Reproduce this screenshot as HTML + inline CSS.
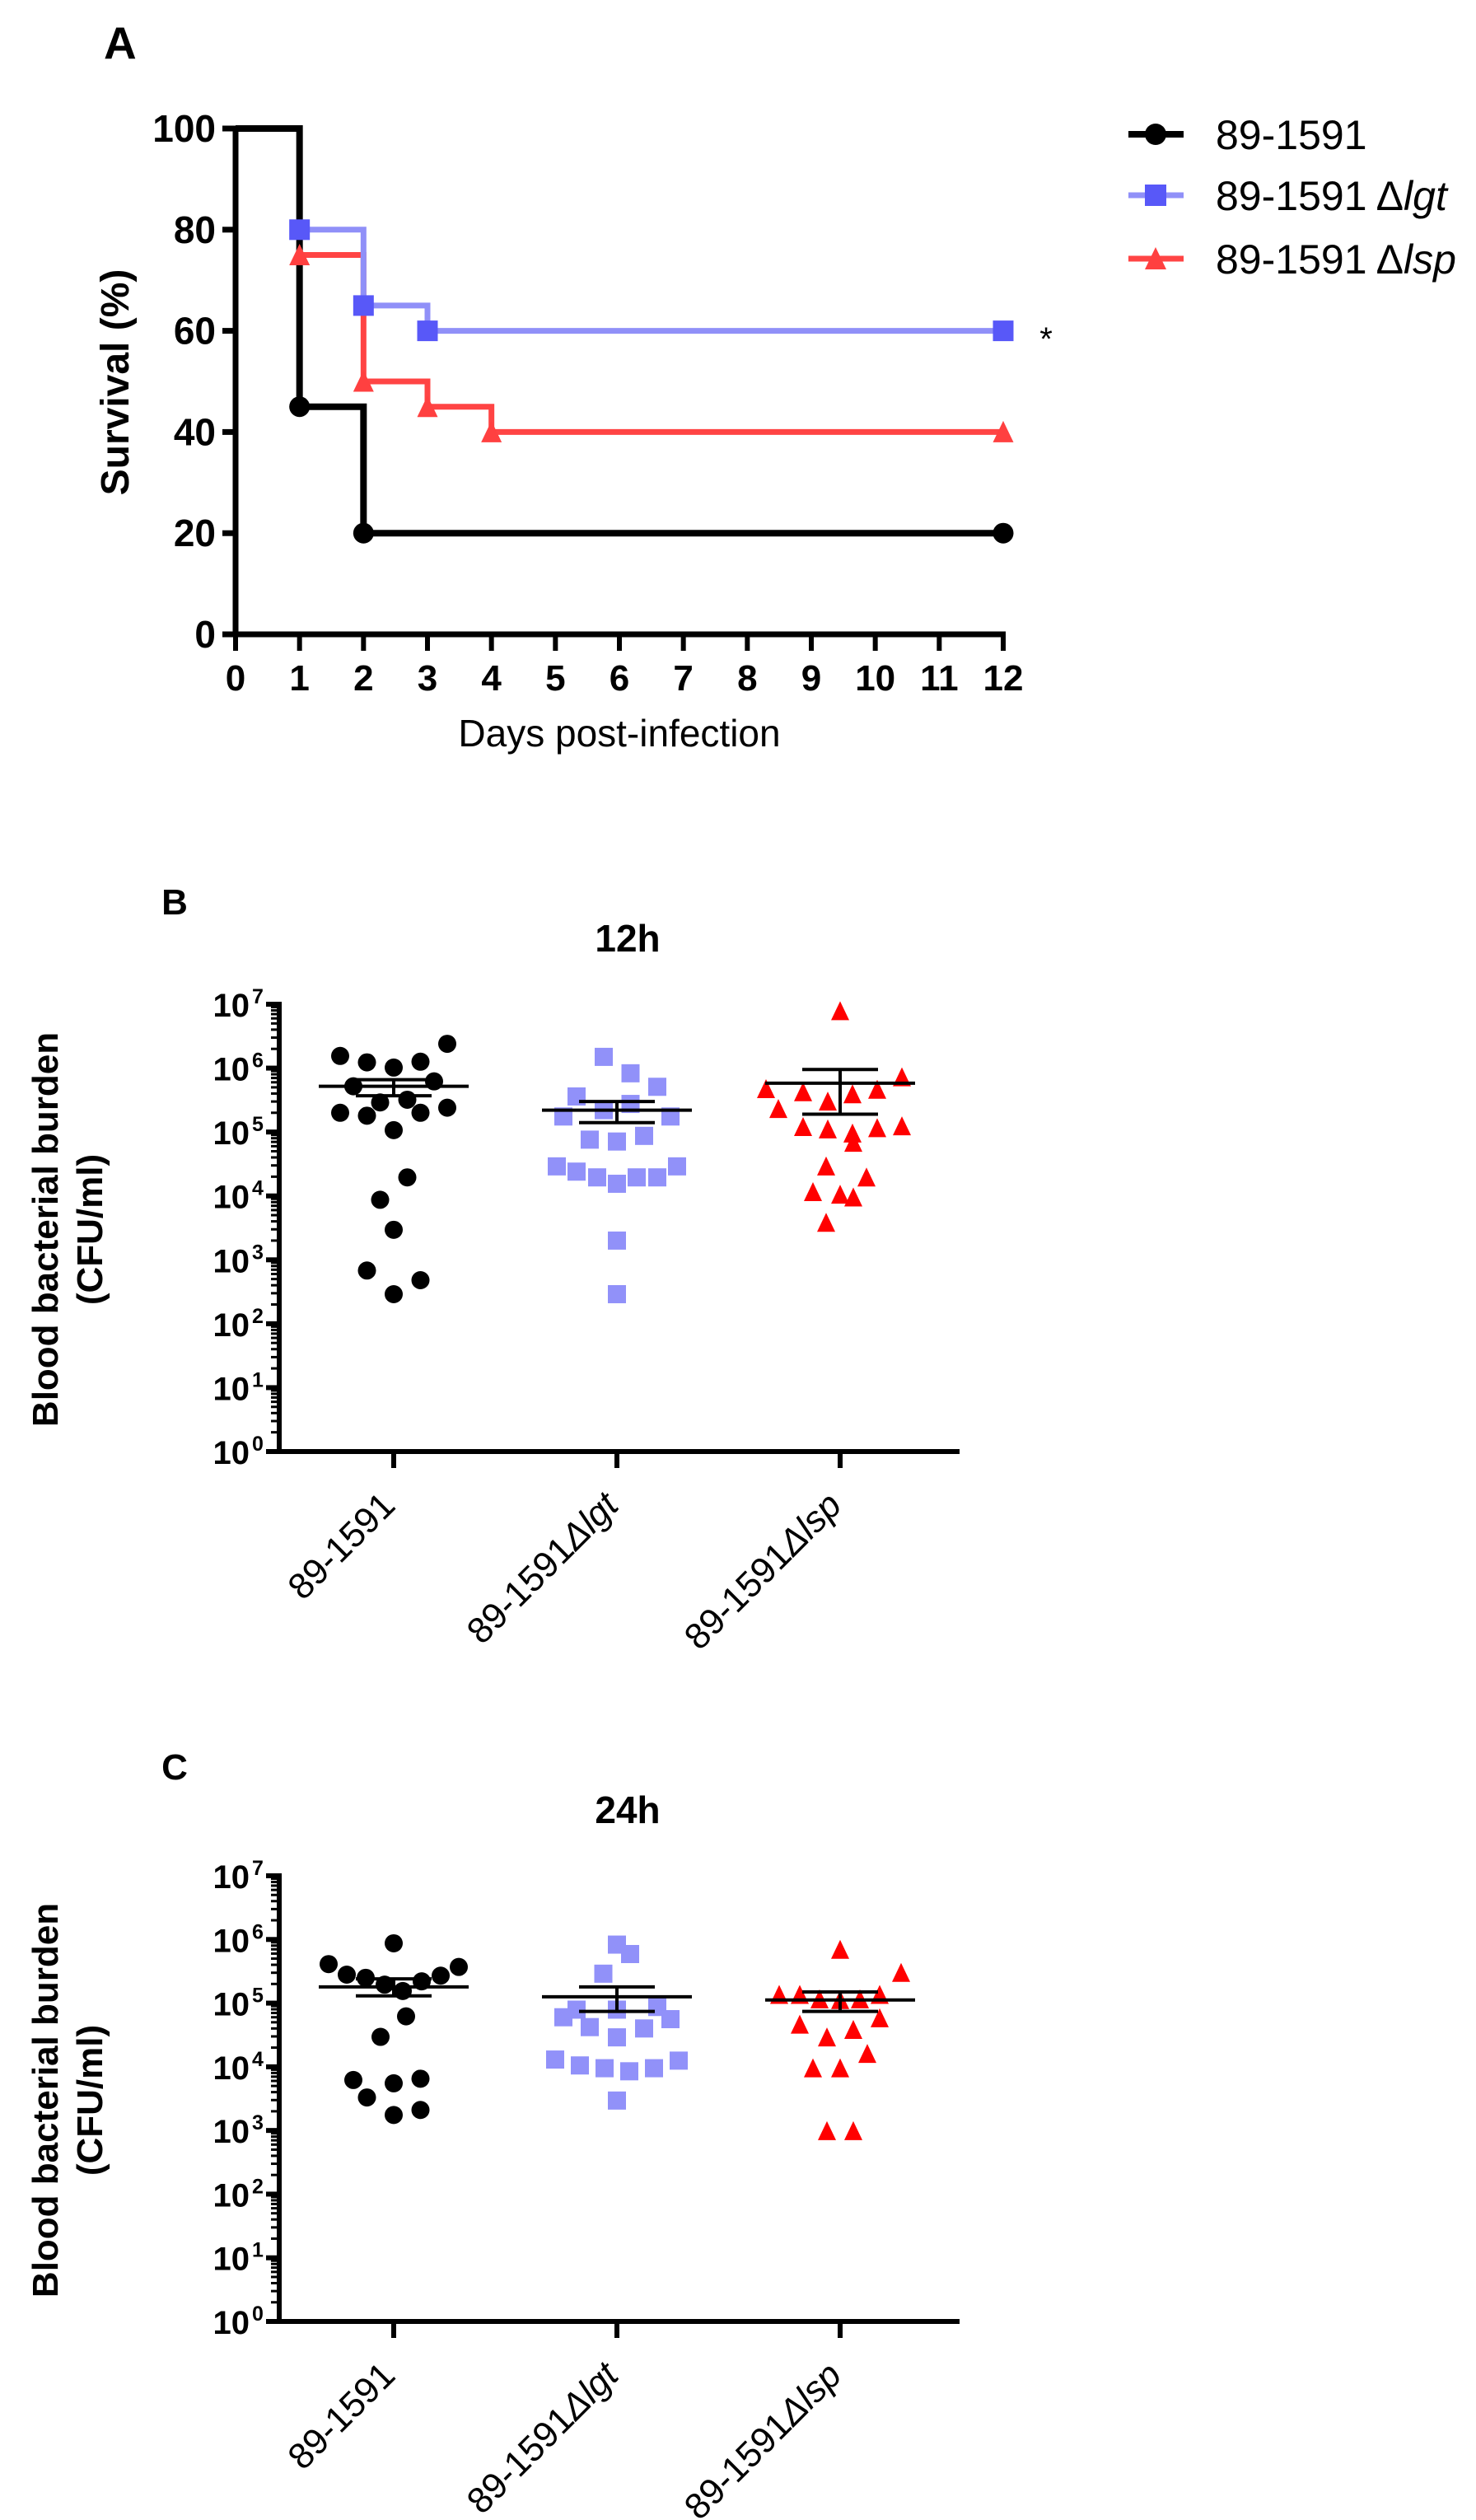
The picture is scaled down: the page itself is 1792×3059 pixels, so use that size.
<!DOCTYPE html>
<html><head><meta charset="utf-8"><style>
html,body{margin:0;padding:0;background:#fff;}
svg{display:block;font-family:"Liberation Sans",Arial,sans-serif;}
</style></head><body>
<svg id="fig" width="1792" height="3059" viewBox="0 0 1792 3059" xmlns="http://www.w3.org/2000/svg">
<text x="126" y="71" font-size="55" font-weight="bold">A</text>
<text x="212" y="1110" font-size="44" font-weight="bold" text-anchor="middle">B</text>
<text x="212" y="2160" font-size="44" font-weight="bold" text-anchor="middle">C</text>
<g id="panelA"></g>
<g id="panelB"></g>
<g id="panelC"></g>
</svg>
<script>
// ---------- Panel A data ----------
const dayTicks = [0,1,2,3,4,5,6,7,8,9,10,11,12];
const survTicks = [0,20,40,60,80,100];
const wtDays = [0,1,2,12];
const wtSurv = [100,45,20,20];
const lgtDays = [0,1,2,3,12];
const lgtSurv = [100,80,65,60,60];
const lspDays = [0,1,2,3,4,12];
const lspSurv = [100,75,50,45,40,40];

// ---------- Panel B (12h) data, CFU/ml ----------
const groups = ["89-1591", "89-1591 \u0394lgt", "89-1591 \u0394lsp"];
const b12Wt = [1.55e6,1.23e6,1.02e6,1.26e6,2.4e6,5.2e5,6.2e5,2.9e5,3.2e5,2.0e5,1.8e5,2.0e5,2.4e5,1.07e5,1.95e4,8.7e3,2.95e3,680,480,290];
const b12Lgt = [1.5e6,8.3e5,5.1e5,3.6e5,2.75e5,2.2e5,1.75e5,1.75e5,7.6e4,7.1e4,8.7e4,2.9e4,2.4e4,1.95e4,1.55e4,1.95e4,1.95e4,2.9e4,2.0e3,290];
const b12Lsp = [7.8e6,7.2e5,4.7e5,4.2e5,3.0e5,3.9e5,4.6e5,2.3e5,1.2e5,1.1e5,9.5e4,6.8e4,1.15e5,1.23e5,2.9e4,1.95e4,1.15e4,1.05e4,9.5e3,3.8e3];
const b12Mean = [5.2e5,2.2e5,5.8e5];
const b12SemHi = [6.6e5,3.0e5,9.5e5];
const b12SemLo = [3.7e5,1.4e5,1.9e5];
const b12JitWt = [-65,-32.5,0,32.5,65,-49,49,-16.5,16.5,-65,-32.5,32.5,65,0,16.5,-16.5,0,-32.5,32.5,0];
const b12JitLgt = [-16,16.5,49,-49,16.5,-16,-65,65,-33,0,33,-73,-49,-24,0,24,49,73,0,0];
const b12JitLsp = [0,75,-90,-45,-15,15,45,-75,-45,-15,15,16,45,75,-17,32,-33,0,16,-17];

// ---------- Panel C (24h) data ----------
const c24Wt = [8.7e5,4.1e5,2.8e5,2.5e5,1.95e5,2.2e5,2.7e5,3.7e5,1.55e5,6.2e4,2.95e4,6.2e3,5.5e3,6.5e3,3.3e3,1.75e3,2.1e3];
const c24Lgt = [8.3e5,5.9e5,2.9e5,7.9e4,7.9e4,8.7e4,6.0e4,5.6e4,4.2e4,2.9e4,4.0e4,1.3e4,1.05e4,9.5e3,8.5e3,9.5e3,1.25e4,2.95e3];
const c24Lsp = [6.9e5,3.0e5,1.35e5,1.35e5,1.15e5,1.12e5,1.15e5,1.35e5,5.8e4,4.6e4,3.8e4,2.9e4,1.6e4,9.5e3,9.5e3,980,980];
const c24Mean = [1.8e5,1.26e5,1.12e5];
const c24SemHi = [2.4e5,1.8e5,1.5e5];
const c24SemLo = [1.3e5,7.4e4,7.4e4];
const c24JitWt = [0,-79,-57,-34,-11,34,57,79,11,15,-16,-49,0,32.5,-32.5,0,32.5];
const c24JitLgt = [0,16,-16.5,-49,0,49,-65,65,-33,0,33,-75,-45,-15,15,45,75,0];
const c24JitLsp = [0,74,-74,-49,-25,0,24,48,48,-49,16,-16,33,-33,0,-16,16];
const logTicks = [0,1,2,3,4,5,6,7];

const NS = "http://www.w3.org/2000/svg";
function mk(parent, tag, attrs, text){
  const e = document.createElementNS(NS, tag);
  for (const k in attrs) e.setAttribute(k, attrs[k]);
  if (text !== undefined) e.textContent = text;
  parent.appendChild(e);
  return e;
}
function marker(g, shape, cx, cy, s, fill){
  let e;
  if (shape === "circle") e = mk(g, "circle", {cx:cx, cy:cy, r:s/2, fill:fill});
  else if (shape === "square") e = mk(g, "rect", {x:cx-s/2, y:cy-s/2, width:s, height:s, fill:fill});
  else e = mk(g, "polygon", {points:`${cx},${cy-s/2-1} ${cx-s/2},${cy+s/2} ${cx+s/2},${cy+s/2}`, fill:fill});
  return e;
}

// ================= Panel A =================
(function(){
  const g = document.getElementById("panelA");
  const X0 = 286, X1 = 1218, Y0 = 770, Y1 = 156;
  const xs = d => X0 + (X1-X0)*d/12;
  const ys = v => Y0 - (Y0-Y1)*v/100;
  let e = mk(g, "line", {x1:X0, y1:Y1-3, x2:X0, y2:Y0+3, stroke:"#000", "stroke-width":7});
  
  
  e = mk(g, "line", {x1:X0-3, y1:Y0, x2:X1+3, y2:Y0, stroke:"#000", "stroke-width":7});
  
  
  survTicks.forEach(v => {
    mk(g, "line", {x1:X0-16, y1:ys(v), x2:X0, y2:ys(v), stroke:"#000", "stroke-width":7});
    const t = mk(g, "text", {x:X0-24, y:ys(v)+16, "font-size":46, "font-weight":"bold", "text-anchor":"end"}, String(v));
    
    
  });
  dayTicks.forEach(d => {
    mk(g, "line", {x1:xs(d), y1:Y0, x2:xs(d), y2:Y0+20, stroke:"#000", "stroke-width":6});
    const t = mk(g, "text", {x:xs(d), y:838, "font-size":44, "font-weight":"bold", "text-anchor":"middle"}, String(d));
    
    
  });
  let t = mk(g, "text", {x:752, y:906, "font-size":46, "text-anchor":"middle"}, "Days post-infection");
  
  
  t = mk(g, "text", {x:0, y:0, "font-size":48, "font-weight":"bold", "text-anchor":"middle", transform:"translate(156,464) rotate(-90)"}, "Survival (%)");
  
  

  const series = [
    {days:lspDays, surv:lspSurv, line:"#ff4444", mk:"#ff4040", shape:"tri", w:7, name:"series-lsp"},
    {days:lgtDays, surv:lgtSurv, line:"#9090f8", mk:"#5858f8", shape:"square", w:7, name:"series-lgt"},
    {days:wtDays, surv:wtSurv, line:"#000", mk:"#000", shape:"circle", w:8, name:"series-wt"}
  ];
  series.forEach(s => {
    let d = `M${xs(s.days[0])},${ys(s.surv[0])}`;
    for (let i=1;i<s.days.length;i++){
      d += ` H${xs(s.days[i])} V${ys(s.surv[i])}`;
    }
    const p = mk(g, "path", {d:d, fill:"none", stroke:s.line, "stroke-width":s.w});
    
    
  });
  series.forEach(s => {
    for (let i=1;i<s.days.length;i++){
      const m = marker(g, s.shape, xs(s.days[i]), ys(s.surv[i]), 25, s.mk);
      
      
    }
  });
  t = mk(g, "text", {x:1270, y:425, "font-size":40, "text-anchor":"middle"}, "*");
  
  

  const leg = [
    {y:163, line:"#000", mk:"#000", shape:"circle", label:"89-1591", w:8},
    {y:237, line:"#9090f8", mk:"#5858f8", shape:"square", label:"89-1591 \u0394", w:7},
    {y:314, line:"#ff4444", mk:"#ff4040", shape:"tri", label:"89-1591 \u0394", w:7}
  ];
  leg.forEach((l, i) => {
    const lg = mk(g, "g", {});
    
    
    mk(lg, "line", {x1:1370, y1:l.y, x2:1437, y2:l.y, stroke:l.line, "stroke-width":l.w});
    marker(lg, l.shape, 1403, l.y, 26, l.mk);
    const tx = mk(lg, "text", {x:1476, y:l.y+18, "font-size":50});
    mk(tx, "tspan", {}, l.label);
    if (i === 1) mk(tx, "tspan", {"font-style":"italic"}, "lgt");
    if (i === 2) mk(tx, "tspan", {"font-style":"italic"}, "lsp");
  });
})();

// ================= Dot plots =================
function dotPlot(gid, top, bottom, title, sets, jits, means, hi, lo){
  const g = document.getElementById(gid);
  const AX = 339, XEND = 1165;
  const cats = [478, 749, 1020];
  const dec = (bottom-top)/7;
  const ys = v => bottom - Math.log10(v)*dec;
  const yl = l => bottom - l*dec;
  let e = mk(g, "line", {x1:AX, y1:top-3, x2:AX, y2:bottom+3, stroke:"#000", "stroke-width":6});
  
  
  e = mk(g, "line", {x1:AX-16, y1:bottom, x2:XEND, y2:bottom, stroke:"#000", "stroke-width":6});
  
  
  logTicks.forEach(l => {
    mk(g, "line", {x1:AX-16, y1:yl(l), x2:AX, y2:yl(l), stroke:"#000", "stroke-width":6});
    if (l < 7) for (let m=2;m<=9;m++){
      mk(g, "line", {x1:AX-10, y1:yl(l+Math.log10(m)), x2:AX, y2:yl(l+Math.log10(m)), stroke:"#000", "stroke-width":3});
    }
    const t = mk(g, "text", {x:303, y:yl(l)+15, "font-size":40, "font-weight":"bold", "text-anchor":"end"}, "10");
    
    
    mk(g, "text", {x:306, y:yl(l)-1, "font-size":25, "font-weight":"bold"}, String(l));
  });
  let t = mk(g, "text", {x:762, y:top-64, "font-size":46, "font-weight":"bold", "text-anchor":"middle"}, title);
  
  
  const ymid = (top+bottom)/2 + 2;
  t = mk(g, "text", {x:0, y:0, "font-size":44, "font-weight":"bold", "text-anchor":"middle", transform:`translate(70,${ymid}) rotate(-90)`}, "Blood bacterial burden");
  
  
  t = mk(g, "text", {x:0, y:0, "font-size":44, "font-weight":"bold", "text-anchor":"middle", transform:`translate(124,${ymid}) rotate(-90)`}, "(CFU/ml)");
  
  
  const shapes = ["circle","square","tri"];
  const cols = ["#000","#9191f9","#ff0000"];
  cats.forEach((cx, i) => {
    mk(g, "line", {x1:cx, y1:bottom, x2:cx, y2:bottom+20, stroke:"#000", "stroke-width":6});
    const lab = mk(g, "text", {x:0, y:0, "font-size":44, "text-anchor":"end", transform:`translate(${cx+4},${bottom+68}) rotate(-45)`});
    
    
    if (i === 0) mk(lab, "tspan", {}, "89-1591");
    else { mk(lab, "tspan", {}, "89-1591"); mk(lab, "tspan", {"font-style":"italic"}, i===1 ? "\u0394lgt" : "\u0394lsp"); }
    sets[i].forEach((v, k) => {
      const m = marker(g, shapes[i], cx + jits[i][k], ys(v), 22, cols[i]);
      
      
    });
    const bars = mk(g, "g", {stroke:"#000", "stroke-width":4});
    
    
    mk(bars, "line", {x1:cx-91, y1:ys(means[i]), x2:cx+91, y2:ys(means[i])});
    mk(bars, "line", {x1:cx-46, y1:ys(hi[i]), x2:cx+46, y2:ys(hi[i])});
    mk(bars, "line", {x1:cx-46, y1:ys(lo[i]), x2:cx+46, y2:ys(lo[i])});
    mk(bars, "line", {x1:cx, y1:ys(hi[i]), x2:cx, y2:ys(lo[i])});
  });
}
dotPlot("panelB", 1219, 1762, "12h", [b12Wt,b12Lgt,b12Lsp], [b12JitWt,b12JitLgt,b12JitLsp], b12Mean, b12SemHi, b12SemLo);
dotPlot("panelC", 2277, 2818, "24h", [c24Wt,c24Lgt,c24Lsp], [c24JitWt,c24JitLgt,c24JitLsp], c24Mean, c24SemHi, c24SemLo);
</script>
</body></html>
